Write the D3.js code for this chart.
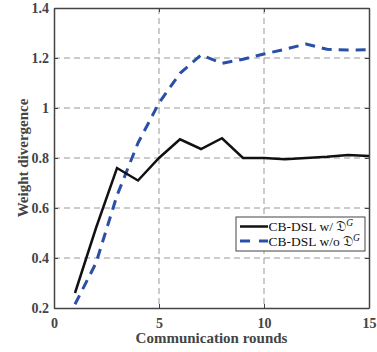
<!DOCTYPE html>
<html><head><meta charset="utf-8">
<script src="https://cdn.jsdelivr.net/npm/d3@7"></script>
<style>body{margin:0;background:#fff}</style>
</head><body>
<svg id="c" width="377" height="352"></svg>
<script>
const rounds = [1,2,3,4,5,6,7,8,9,10,11,12,13,14,15];
const withDG = [0.26,0.52,0.76,0.71,0.80,0.875,0.836,0.879,0.80,0.80,0.795,0.80,0.805,0.812,0.808];
const withoutDG = [0.215,0.38,0.65,0.86,1.02,1.139,1.212,1.179,1.195,1.216,1.235,1.256,1.235,1.232,1.233];
const xTicks = [0,5,10,15];
const yTicks = [0.2,0.4,0.6,0.8,1,1.2,1.4];
const seriesNames = ["CB-DSL w/ ", "CB-DSL w/o "];

const svg = d3.select("#c");
const L=54,R=369,T=8,B=308;
const x = d3.scaleLinear().domain([0,15]).range([L,R]);
const y = d3.scaleLinear().domain([0.2,1.4]).range([B,T]);
const serif = "'Liberation Serif','Times New Roman',serif";

// grid
const g = svg.append("g");
g.selectAll(".gx").data(xTicks.slice(1,-1)).enter().append("line")
 .attr("x1",d=>x(d)).attr("x2",d=>x(d)).attr("y1",T).attr("y2",B)
 .attr("stroke","#999").attr("stroke-width",1).attr("stroke-dasharray","6,4");
g.selectAll(".gy").data(yTicks.slice(1,-1)).enter().append("line")
 .attr("y1",d=>y(d)).attr("y2",d=>y(d)).attr("x1",L).attr("x2",R)
 .attr("stroke","#999").attr("stroke-width",1).attr("stroke-dasharray","6,4");

// axes
const xa = svg.append("g").attr("transform",`translate(0,${B})`)
 .call(d3.axisBottom(x).tickValues(xTicks).tickSizeInner(-4).tickSizeOuter(0).tickPadding(10));
const ya = svg.append("g").attr("transform",`translate(${L},0)`)
 .call(d3.axisLeft(y).tickValues(yTicks).tickFormat(d=>d===1?"1":d3.format(".1f")(d)).tickSizeInner(-4).tickSizeOuter(0).tickPadding(5));
svg.append("g").attr("transform",`translate(0,${T})`)
 .call(d3.axisTop(x).tickValues(xTicks).tickSizeInner(-4).tickSizeOuter(0).tickFormat(""));
svg.append("g").attr("transform",`translate(${R},0)`)
 .call(d3.axisRight(y).tickValues(yTicks).tickSizeInner(-4).tickSizeOuter(0).tickFormat(""));
svg.selectAll(".domain").attr("stroke","#444").attr("stroke-width",1.5);
svg.selectAll(".tick line").attr("stroke","#444");
[xa,ya].forEach(a=>a.selectAll("text").attr("font-family",serif).attr("font-weight","bold")
 .attr("font-size",14).attr("fill","#444"));

// lines
const line = d3.line().x((d,i)=>x(rounds[i])).y(d=>y(d));
svg.append("path").datum(withoutDG).attr("d",line).attr("fill","none")
 .attr("stroke","#2a4fa8").attr("stroke-width",3).attr("stroke-dasharray","10,7");
svg.append("path").datum(withDG).attr("d",line).attr("fill","none")
 .attr("stroke","#111").attr("stroke-width",2.5);

// labels
svg.append("text").attr("x",(L+R)/2).attr("y",343).attr("text-anchor","middle")
 .attr("font-family",serif).attr("font-weight","bold").attr("font-size",15).attr("fill","#444")
 .text("Communication rounds");
svg.append("text").attr("transform",`translate(28,${(T+B)/2}) rotate(-90)`).attr("text-anchor","middle")
 .attr("font-family",serif).attr("font-weight","bold").attr("font-size",15).attr("fill","#444")
 .text("Weight divergence");

// legend
const lg = svg.append("g");
lg.append("rect").attr("x",236).attr("y",217).attr("width",129).attr("height",34)
 .attr("fill","#fff").attr("stroke","#444").attr("stroke-width",1);
const styles=[{c:"#111",w:2.5,da:null},{c:"#2a4fa8",w:3,da:"10,9"}];
seriesNames.forEach((n,i)=>{
  const yy=226.5+i*14.5;
  lg.append("line").attr("x1",240).attr("x2",268).attr("y1",yy).attr("y2",yy)
   .attr("stroke",styles[i].c).attr("stroke-width",styles[i].w).attr("stroke-dasharray",styles[i].da);
  const t=lg.append("text").attr("x",268.5).attr("y",yy+4.5).attr("font-family",serif).attr("font-size",13.5).attr("fill","#111");
  t.append("tspan").text(n);
  t.append("tspan").text("\u{1D507}");
  t.append("tspan").attr("dy",-5).attr("font-size",9.5).attr("font-style","italic").text("G");
});
</script>
</body></html>
